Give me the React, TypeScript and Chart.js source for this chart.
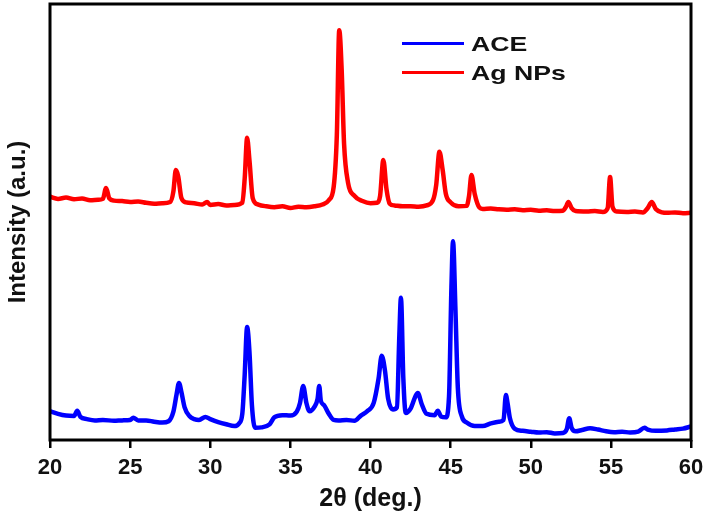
import React, { useEffect, useRef } from "react";
import { Chart, registerables } from "chart.js";

Chart.register(...registerables);

// 2θ (deg.) positions and intensities (a.u.)
const agTheta = [
  20.0, 20.5, 21.0, 21.5, 22.0, 22.5, 23.0, 23.3, 23.5, 23.7, 24.0, 24.5, 25.0, 25.5, 26.0, 26.5, 27.0, 27.5, 27.7,
  27.85, 28.0, 28.2, 28.5, 29.0, 29.5, 29.8, 30.0, 30.5, 31.0, 31.5, 32.0, 32.15, 32.3, 32.45, 32.65, 33.0, 33.5,
  34.0, 34.5, 35.0, 35.5, 36.0, 36.5, 37.0, 37.4, 37.7, 37.9, 38.05, 38.2, 38.35, 38.6, 39.0, 39.5, 40.0, 40.4, 40.6,
  40.8, 41.0, 41.2, 41.5, 42.0, 42.5, 43.0, 43.5, 43.9, 44.1, 44.3, 44.5, 44.7, 45.0, 45.5, 46.0, 46.15, 46.3, 46.5,
  46.8, 47.0, 47.5, 48.0, 48.5, 49.0, 49.5, 50.0, 50.5, 51.0, 51.5, 52.0, 52.2, 52.35, 52.55, 52.8, 53.5, 54.0, 54.5,
  54.8, 54.95, 55.1, 55.4, 56.0, 56.5, 57.0, 57.3, 57.55, 57.8, 58.2, 58.5, 59.0, 59.5, 60.0,
];
const agIntensity = [
  55.8, 55.3, 55.6, 55.2, 55.4, 55.0, 55.1, 55.3, 57.8, 55.4, 54.9, 54.8, 54.6, 54.7, 54.4, 54.2, 54.3, 54.6, 57.0,
  61.9, 60.5, 55.5, 54.5, 54.3, 54.0, 54.6, 53.9, 54.1, 53.8, 53.9, 54.4, 60.0, 69.3, 64.0, 55.5, 54.0, 53.6,
  53.4, 53.6, 53.2, 53.5, 53.4, 53.6, 54.0, 55.0, 58.0, 70.0, 94.0, 85.0, 68.0, 59.0, 56.0, 54.8, 54.3, 54.4, 56.0,
  64.2, 57.5, 54.2, 53.8, 53.6, 53.6, 53.5, 53.8, 55.0, 58.5, 66.1, 62.0, 56.5, 54.5, 53.6, 53.7, 56.0, 60.8, 56.5,
  53.3, 53.0, 53.1, 52.9, 52.8, 52.9, 52.7, 52.8, 52.6, 52.7, 52.5, 52.6, 53.5, 54.6, 53.2, 52.5, 52.4, 52.5, 52.3,
  53.2, 60.3, 53.5, 52.4, 52.3, 52.4, 52.2, 53.2, 54.6, 53.0, 52.2, 52.1, 52.2, 52.0, 52.1,
];

const aceTheta = [
  20.0, 20.5, 21.0, 21.5, 21.7, 21.9, 22.3, 22.8, 23.3, 24.0, 24.5, 25.0, 25.2, 25.5, 26.0, 26.5, 27.0, 27.4, 27.7,
  27.9, 28.05, 28.2, 28.4, 28.7, 29.0, 29.3, 29.7, 30.0, 30.5, 31.0, 31.5, 31.8, 32.0, 32.15, 32.3, 32.45, 32.6,
  32.8, 33.2, 33.7, 34.0, 34.5, 35.0, 35.4, 35.6, 35.8, 36.0, 36.2, 36.5, 36.7, 36.8, 36.9, 37.1, 37.4, 37.7, 38.0,
  38.5, 39.0, 39.4, 39.8, 40.2, 40.5, 40.7, 40.9, 41.1, 41.4, 41.65, 41.8, 41.9, 42.05, 42.2, 42.5, 42.8, 42.95,
  43.2, 43.5, 44.0, 44.2, 44.4, 44.7, 44.9, 45.05, 45.15, 45.3, 45.45, 45.7, 46.0, 46.5, 47.0, 47.5, 48.0, 48.3,
  48.45, 48.55, 48.7, 49.0, 49.5, 50.0, 50.5, 51.0, 51.5, 52.0, 52.25, 52.4, 52.55, 52.8, 53.2, 53.7, 54.2, 54.7,
  55.2, 55.7, 56.2, 56.7, 57.1, 57.3, 57.8, 58.5, 59.0, 59.5, 60.0,
];
const aceIntensity = [
  6.6, 6.0, 5.6, 5.5, 6.7, 5.3, 4.8, 4.5, 4.6, 4.4, 4.5, 4.6, 5.1, 4.5, 4.5, 4.2, 4.0, 4.3, 6.5,
  10.5, 13.1, 11.0, 7.5, 5.5, 4.8, 4.6, 5.3, 4.8, 4.1, 3.6, 3.2, 3.8, 6.0, 15.0, 25.9, 20.0, 8.0,
  2.8, 2.9, 3.6, 5.2, 5.7, 5.6, 6.5, 8.5, 12.4, 8.5, 6.6, 7.6, 9.5, 12.4, 9.0, 8.0, 6.0, 4.6, 4.5,
  4.6, 4.4, 5.6, 6.6, 8.5, 14.0, 19.3, 16.0, 9.5, 7.0, 7.5, 24.0, 32.6, 14.0, 6.2, 7.2, 10.0, 10.8,
  8.2, 6.0, 5.7, 6.7, 5.4, 5.2, 10.0, 35.0, 45.6, 30.0, 12.0, 5.4, 4.0, 3.2, 3.2, 3.8, 4.2, 4.6,
  10.3, 8.5, 5.0, 2.6, 2.1, 1.9, 1.7, 1.8, 1.5, 1.6, 2.5, 5.0, 2.8, 2.0, 2.3, 2.7, 2.4, 2.0,
  1.8, 1.9, 1.7, 1.9, 2.8, 2.4, 2.1, 2.2, 2.4, 2.6, 3.1,
];

const seriesLabels = ["ACE", "Ag NPs"];
const seriesColors = ["#0000ff", "#ff0000"];
const xTicks = [20, 25, 30, 35, 40, 45, 50, 55, 60];

const toPoints = (xs: number[], ys: number[]) => xs.map((x, i) => ({ x, y: ys[i] }));

const frame = {
  id: "frame",
  afterDatasetsDraw(chart: any) {
    const { ctx, chartArea: a } = chart;
    ctx.save();
    ctx.strokeStyle = "#000";
    ctx.lineWidth = 3;
    ctx.strokeRect(a.left, a.top, a.right - a.left, a.bottom - a.top);
    ctx.restore();
  },
};

export default function App() {
  const ref = useRef<HTMLCanvasElement>(null);
  useEffect(() => {
    document.body.style.margin = "0";
    const chart = new Chart(ref.current!, {
      type: "line",
      data: {
        datasets: [
          {
            label: seriesLabels[0],
            data: toPoints(aceTheta, aceIntensity),
            borderColor: seriesColors[0],
            borderWidth: 4.5,
            pointRadius: 0,
            cubicInterpolationMode: "monotone",
          },
          {
            label: seriesLabels[1],
            data: toPoints(agTheta, agIntensity),
            borderColor: seriesColors[1],
            borderWidth: 4.5,
            pointRadius: 0,
            cubicInterpolationMode: "monotone",
          },
        ],
      },
      options: {
        responsive: false,
        animation: false,
        layout: { padding: { top: 4, right: 17, left: 0, bottom: 0 } },
        plugins: { legend: { display: false }, tooltip: { enabled: false } },
        scales: {
          x: {
            type: "linear",
            min: 20,
            max: 60,
            afterBuildTicks: (s: any) => {
              s.ticks = xTicks.map((v) => ({ value: v }));
            },
            afterFit: (s: any) => {
              s.height = 74;
              s.paddingRight = 0;
              s.paddingLeft = 0;
            },
            grid: { display: true, drawOnChartArea: false, drawTicks: true, tickLength: 8, color: "#000", lineWidth: 2.5 },
            border: { display: false },
            ticks: {
              color: "#111",
              padding: 7,
              maxRotation: 0,
              font: { family: "Liberation Sans, Arial", size: 22, weight: "bold" },
            },
            title: {
              display: true,
              text: "2θ (deg.)",
              color: "#111",
              padding: { top: 0, bottom: 0 },
              font: { family: "Liberation Sans, Arial", size: 25, weight: "bold" },
            },
          },
          y: {
            min: 0,
            max: 100,
            afterFit: (s: any) => {
              s.width = 50;
            },
            grid: { display: false },
            border: { display: false },
            ticks: { display: false },
            title: {
              display: true,
              text: "Intensity (a.u.)",
              color: "#111",
              padding: { top: 4, bottom: 0 },
              font: { family: "Liberation Sans, Arial", size: 24, weight: "bold" },
            },
          },
        },
      },
      plugins: [frame],
    } as any);
    return () => chart.destroy();
  }, []);

  const legendFont = {
    fontFamily: "Liberation Sans, Arial",
    fontSize: 21,
    fontWeight: "bold" as const,
    color: "#111",
    display: "inline-block",
    transform: "scaleX(1.27)",
    transformOrigin: "left center",
  };
  return (
    <div style={{ position: "relative", width: 708, height: 514 }}>
      <canvas ref={ref} width={708} height={514} />
      <div style={{ position: "absolute", left: 402, top: 29 }}>
        {seriesLabels.map((lab, i) => (
          <div key={lab} style={{ display: "flex", alignItems: "center", height: 29 }}>
            <div style={{ width: 62, height: 3, background: seriesColors[i], marginRight: 7 }} />
            <span style={legendFont}>{lab}</span>
          </div>
        ))}
      </div>
    </div>
  );
}
